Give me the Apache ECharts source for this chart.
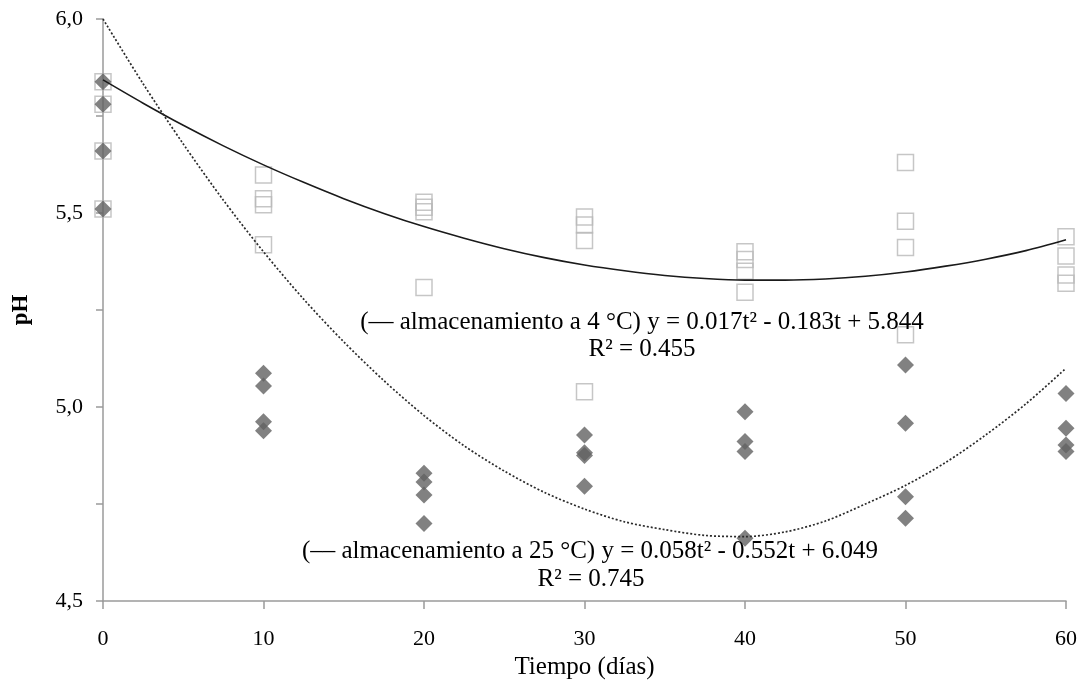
<!DOCTYPE html>
<html>
<head>
<meta charset="utf-8">
<script src="https://cdn.jsdelivr.net/npm/echarts@6/dist/echarts.min.js"></script>
<style>
html,body{margin:0;padding:0;background:#fff;}
#chart{width:1083px;height:680px;}
</style>
</head>
<body>
<div id="chart"></div>
<script>
// Storage time (days)
const days = [0, 10, 20, 30, 40, 50, 60];
// pH replicates, storage at 4 °C (hollow squares)
const ph4C_0  = [5.838, 5.780, 5.660, 5.510];
const ph4C_10 = [5.598, 5.537, 5.521, 5.418];
const ph4C_20 = [5.528, 5.515, 5.503, 5.308];
const ph4C_30 = [5.490, 5.469, 5.429, 5.039];
const ph4C_40 = [5.400, 5.380, 5.350, 5.296];
const ph4C_50 = [5.630, 5.479, 5.411, 5.186];
const ph4C_60 = [5.439, 5.389, 5.340, 5.319];
// pH replicates, storage at 25 °C (filled diamonds)
const ph25C_0  = [5.838, 5.780, 5.660, 5.510];
const ph25C_10 = [5.087, 5.054, 4.962, 4.939];
const ph25C_20 = [4.829, 4.807, 4.773, 4.700];
const ph25C_30 = [4.928, 4.882, 4.875, 4.796];
const ph25C_40 = [4.988, 4.911, 4.885, 4.662];
const ph25C_50 = [5.108, 4.958, 4.769, 4.713];
const ph25C_60 = [5.035, 4.945, 4.902, 4.885];
// Trend curves (every 2.5 days)
const trendDays = [0, 2.5, 5, 7.5, 10, 12.5, 15, 17.5, 20, 22.5, 25, 27.5, 30,
                   32.5, 35, 37.5, 40, 42.5, 45, 47.5, 50, 52.5, 55, 57.5, 60];
const trend4C  = [5.843, 5.783, 5.726, 5.673, 5.624, 5.579, 5.537, 5.499, 5.465, 5.435, 5.408, 5.385, 5.366,
                  5.351, 5.339, 5.331, 5.327, 5.327, 5.330, 5.337, 5.348, 5.363, 5.381, 5.403, 5.431];
const trend25C = [6.000, 5.833, 5.678, 5.533, 5.400, 5.278, 5.168, 5.068, 4.978, 4.900, 4.835, 4.780, 4.737,
                  4.704, 4.684, 4.669, 4.666, 4.678, 4.706, 4.750, 4.798, 4.857, 4.928, 5.008, 5.100];
// Texts
const yTitle = 'pH';
const xTitle = 'Tiempo (días)';
const eq4C  = '(— almacenamiento a 4 °C) y = 0.017t² - 0.183t + 5.844';
const r4C   = 'R² = 0.455';
const eq25C = '(–– almacenamiento a 25 °C) y = 0.058t² - 0.552t + 6.049';
const r25C  = 'R² = 0.745';

const groups4C = [ph4C_0, ph4C_10, ph4C_20, ph4C_30, ph4C_40, ph4C_50, ph4C_60];
const groups25C = [ph25C_0, ph25C_10, ph25C_20, ph25C_30, ph25C_40, ph25C_50, ph25C_60];
function toPoints(groups){
  const out = [];
  groups.forEach((g, i) => g.forEach(v => out.push([days[i], v])));
  return out;
}
const FONT = '"Liberation Serif", "Times New Roman", serif';

const chart = echarts.init(document.getElementById('chart'));
chart.setOption({
  animation: false,
  backgroundColor: '#fff',
  grid: {left: 103, right: 17, top: 19, bottom: 79, containLabel: false, outerBoundsMode: 'none'},
  xAxis: {
    type: 'value', min: 0, max: 60, interval: 10,
    name: xTitle, nameLocation: 'middle', nameGap: 44,
    nameTextStyle: {fontFamily: FONT, fontSize: 25, color: '#000'},
    axisLine: {lineStyle: {color: '#9a9a9a', width: 1.5}},
    axisTick: {show: true, length: 8, lineStyle: {color: '#9a9a9a', width: 1.5}},
    axisLabel: {margin: 27, fontFamily: FONT, fontSize: 22, color: '#000'},
    splitLine: {show: false}
  },
  yAxis: {
    type: 'value', min: 4.5, max: 6.0, interval: 0.25,
    name: yTitle, nameLocation: 'middle', nameGap: 70, nameRotate: 90,
    nameTextStyle: {fontFamily: FONT, fontSize: 23, color: '#000', fontWeight: 'bold'},
    axisLine: {show: true, lineStyle: {color: '#9a9a9a', width: 1.5}},
    axisTick: {show: true, length: 7, lineStyle: {color: '#9a9a9a', width: 1.5}},
    axisLabel: {
      margin: 20, fontFamily: FONT, fontSize: 22, color: '#000',
      formatter: function (v) {
        return Math.abs(v * 2 - Math.round(v * 2)) < 1e-6 ? v.toFixed(1).replace('.', ',') : '';
      }
    },
    splitLine: {show: false}
  },
  series: [
    {
      type: 'scatter', name: '4 °C', data: toPoints(groups4C),
      symbol: 'rect', symbolSize: 16,
      itemStyle: {color: 'rgba(0,0,0,0)', borderColor: '#b8b8b8', borderWidth: 1.5},
      z: 2
    },
    {
      type: 'scatter', name: '25 °C', data: toPoints(groups25C),
      symbol: 'diamond', symbolSize: 17,
      itemStyle: {color: '#626262'},
      z: 3
    },
    {
      type: 'line', name: 'Tendencia 4 °C', data: trendDays.map((d, i) => [d, trend4C[i]]),
      smooth: 0.3, showSymbol: false, symbol: 'none',
      lineStyle: {color: '#1a1a1a', width: 1.6, type: 'solid'},
      z: 4
    },
    {
      type: 'line', name: 'Tendencia 25 °C', data: trendDays.map((d, i) => [d, trend25C[i]]),
      smooth: 0.3, showSymbol: false, symbol: 'none',
      lineStyle: {color: '#2a2a2a', width: 1.7, type: [2, 2]},
      z: 4
    }
  ],
  graphic: [
    {type: 'text', x: 642, y: 322, z: 10,
     style: {text: eq4C, font: '25px ' + FONT, fill: '#000', textAlign: 'center', textVerticalAlign: 'middle'}},
    {type: 'text', x: 642, y: 349, z: 10,
     style: {text: r4C, font: '25px ' + FONT, fill: '#000', textAlign: 'center', textVerticalAlign: 'middle'}},
    {type: 'text', x: 590, y: 551, z: 10,
     style: {text: eq25C, font: '25px ' + FONT, fill: '#000', textAlign: 'center', textVerticalAlign: 'middle'}},
    {type: 'text', x: 591, y: 579, z: 10,
     style: {text: r25C, font: '25px ' + FONT, fill: '#000', textAlign: 'center', textVerticalAlign: 'middle'}}
  ]
});
</script>
</body>
</html>
